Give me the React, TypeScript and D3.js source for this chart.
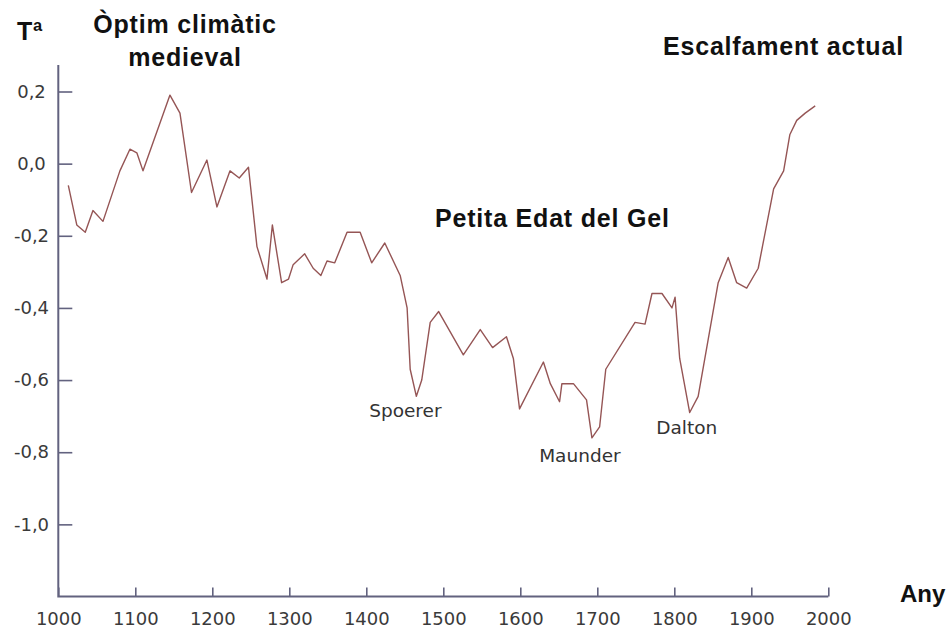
import React, { useEffect, useRef } from 'react';
import * as d3 from 'd3';

// temperature anomaly (year, ºC)
const years = [1013, 1024, 1035, 1045, 1058, 1069, 1080, 1093, 1102, 1110, 1145, 1158, 1173, 1193, 1206, 1223, 1235, 1247, 1258, 1271, 1278, 1290, 1299, 1305, 1320, 1331, 1341, 1349, 1359, 1375, 1392, 1407, 1424, 1444, 1453, 1457, 1465, 1472, 1483, 1494, 1526, 1548, 1564, 1582, 1591, 1599, 1630, 1639, 1651, 1654, 1669, 1686, 1693, 1703, 1711, 1749, 1762, 1771, 1784, 1797, 1801, 1807, 1820, 1831, 1857, 1870, 1881, 1894, 1909, 1929, 1942, 1950, 1959, 1970, 1983];
const temps = [-0.06, -0.17, -0.19, -0.13, -0.16, -0.09, -0.02, 0.04, 0.03, -0.02, 0.19, 0.14, -0.08, 0.01, -0.12, -0.02, -0.04, -0.01, -0.23, -0.32, -0.17, -0.33, -0.32, -0.28, -0.25, -0.29, -0.31, -0.27, -0.275, -0.19, -0.19, -0.275, -0.22, -0.31, -0.4, -0.57, -0.645, -0.6, -0.44, -0.41, -0.53, -0.46, -0.51, -0.48, -0.54, -0.68, -0.55, -0.61, -0.66, -0.61, -0.61, -0.655, -0.76, -0.73, -0.57, -0.44, -0.445, -0.36, -0.36, -0.4, -0.37, -0.54, -0.69, -0.645, -0.33, -0.26, -0.33, -0.345, -0.29, -0.07, -0.02, 0.08, 0.12, 0.14, 0.16];

const xTicks = [1000, 1100, 1200, 1300, 1400, 1500, 1600, 1700, 1800, 1900, 2000];
const yTicks = [0.2, 0, -0.2, -0.4, -0.6, -0.8, -1.0];

// solar minima names, pinned to the trough they label
const minimaNames = ['Spoerer', 'Maunder', 'Dalton'];
const minimaYears = [1465, 1693, 1820];
const minimaValues = [-0.645, -0.76, -0.69];

const width = 949;
const height = 629;

const App = () => {
  const svgRef = useRef(null);

  useEffect(() => {
    const svg = d3.select(svgRef.current);
    svg.selectAll('*').remove();

    const x = d3.scaleLinear().domain([1000, 2000]).range([58.3, 828.3]);
    const y = d3.scaleLinear().domain([-1.2, 0.2]).range([596.5, 91.5]);
    const axisColor = '#62627f';
    const labelFont = '"DejaVu Sans", Verdana, sans-serif';
    const boldFont = '"Liberation Sans", Arial, sans-serif';

    // x axis, ticks pointing up
    const xAxis = d3.axisBottom(x).tickValues(xTicks).tickSizeInner(-9).tickSizeOuter(0).tickFormat(d3.format('d'));
    const gx = svg.append('g').attr('transform', `translate(0,${y(-1.2)})`).call(xAxis);
    gx.select('.domain').remove();
    gx.selectAll('line').attr('stroke', axisColor).attr('stroke-width', 1.6);
    gx.selectAll('text')
      .attr('y', 28.5)
      .attr('dy', null)
      .attr('fill', '#3a3a3a')
      .attr('font-family', labelFont)
      .attr('font-size', 18);

    // y axis, ticks pointing right
    const yAxis = d3.axisLeft(y).tickValues(yTicks).tickSizeInner(-14).tickSizeOuter(0)
      .tickFormat(d => d3.format('.1f')(d).replace('.', ',').replace('−', '-'));
    const gy = svg.append('g').attr('transform', `translate(${x(1000)},0)`).call(yAxis);
    gy.select('.domain').remove();
    gy.selectAll('line').attr('stroke', axisColor).attr('stroke-width', 1.6);
    gy.selectAll('text')
      .attr('x', -26.8)
      .attr('text-anchor', 'middle')
      .attr('fill', '#3a3a3a')
      .attr('font-family', labelFont)
      .attr('font-size', 18);

    // axis lines
    svg.append('path')
      .attr('d', `M${x(1000)},65V${y(-1.2)}H${x(2000)}`)
      .attr('fill', 'none')
      .attr('stroke', axisColor)
      .attr('stroke-width', 2);

    // temperature line
    const line = d3.line()
      .x((d, i) => x(years[i]))
      .y(d => y(d));

    svg.append('path')
      .datum(temps)
      .attr('d', line)
      .attr('fill', 'none')
      .attr('stroke', '#955555')
      .attr('stroke-width', 1.4)
      .attr('stroke-linejoin', 'round');

    // minima labels, nudged under each trough
    const nudgeX = [-11, -12, -3];
    const nudgeY = [21, 24, 21.5];
    svg.selectAll('.minimum')
      .data(minimaNames)
      .enter()
      .append('text')
      .attr('class', 'minimum')
      .attr('x', (d, i) => x(minimaYears[i]) + nudgeX[i])
      .attr('y', (d, i) => y(minimaValues[i]) + nudgeY[i])
      .attr('text-anchor', 'middle')
      .attr('fill', '#333')
      .attr('font-family', labelFont)
      .attr('font-size', 18.5)
      .text(d => d);

    // bold titles
    const bold = (txt, px, py, anchor = 'start') =>
      svg.append('text')
        .attr('x', px)
        .attr('y', py)
        .attr('text-anchor', anchor)
        .attr('font-family', boldFont)
        .attr('font-weight', 'bold')
        .attr('font-size', 25)
        .attr('letter-spacing', 0.8)
        .attr('fill', '#111')
        .text(txt);

    bold('Tª', 17, 40);
    bold('Òptim climàtic', 185, 33, 'middle');
    bold('medieval', 185, 66, 'middle');
    bold('Escalfament actual', 663, 55);
    bold('Petita Edat del Gel', 435, 227);
    bold('Any', 900, 602).attr('font-size', 24).attr('letter-spacing', 0);
  }, []);

  return (
    <svg
      ref={svgRef}
      width={width}
      height={height}
      style={{ position: 'absolute', left: 0, top: 0, background: '#fff' }}
    />
  );
};

export default App;
